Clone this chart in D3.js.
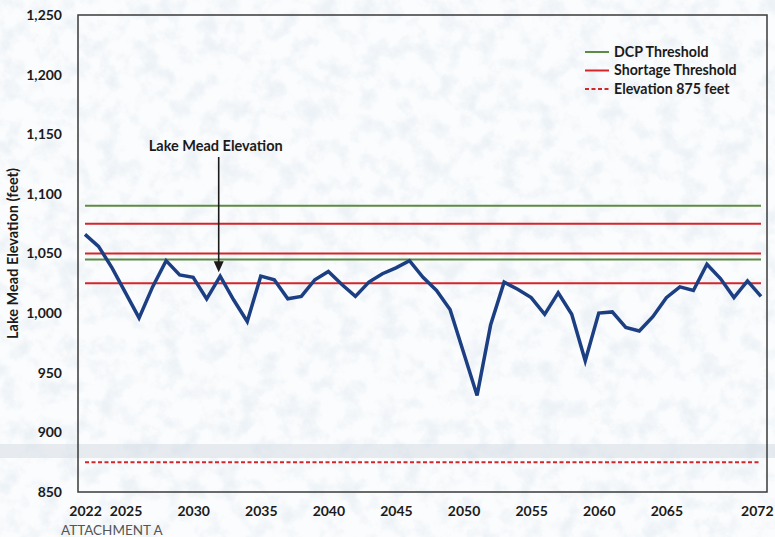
<!DOCTYPE html>
<html>
<head>
<meta charset="utf-8">
<script src="https://cdn.jsdelivr.net/npm/d3@7"></script>
<style>
  html, body { margin: 0; padding: 0; background: #fff; }
  svg { display: block; font-family: Lato, "Open Sans", sans-serif; }
</style>
</head>
<body>
<div id="chart"></div>
<script>
// data
var years = [2022, 2023, 2024, 2025, 2026, 2027, 2028, 2029, 2030, 2031,
             2032, 2033, 2034, 2035, 2036, 2037, 2038, 2039, 2040, 2041,
             2042, 2043, 2044, 2045, 2046, 2047, 2048, 2049, 2050, 2051,
             2052, 2053, 2054, 2055, 2056, 2057, 2058, 2059, 2060, 2061,
             2062, 2063, 2064, 2065, 2066, 2067, 2068, 2069, 2070, 2071, 2072];
var elevation = [1066, 1056, 1038, 1017, 996, 1022, 1044, 1032, 1030, 1012,
                 1031, 1011, 993, 1031, 1028, 1012, 1014, 1028, 1035, 1024,
                 1014, 1026, 1033, 1038, 1044, 1030, 1019, 1003, 967, 931,
                 990, 1026, 1020, 1013, 999, 1017, 999, 960, 1000, 1001,
                 988, 985, 997, 1013, 1022, 1019, 1041, 1029, 1013, 1027, 1014];
var dcpThreshold = [1090, 1045];
var shortageThreshold = [1075, 1050, 1025];
var elevation875 = [875];
var xTickYears = [2022, 2025, 2030, 2035, 2040, 2045, 2050, 2055, 2060, 2065, 2072];
var yTicks = [850, 900, 950, 1000, 1050, 1100, 1150, 1200, 1250];
var legendItems = [
  {label: "DCP Threshold", kind: "dcp"},
  {label: "Shortage Threshold", kind: "shortage"},
  {label: "Elevation 875 feet", kind: "e875"}
];

var W = 775, H = 537;
var margin = {top: 15, right: 8, bottom: 45, left: 78},
    width = W - margin.left - margin.right,
    height = H - margin.top - margin.bottom;

var colors = {dcp: "#5f8a46", shortage: "#d3262b", e875: "#d3262b", line: "#1b3f82"};

var svg_whole = d3.select("#chart").append("svg")
    .attr("width", W)
    .attr("height", H);

// scanned paper look
var defs = svg_whole.append("defs");
var filt = defs.append("filter").attr("id", "paper")
    .attr("x", 0).attr("y", 0).attr("width", "100%").attr("height", "100%");
filt.append("feTurbulence")
    .attr("type", "fractalNoise")
    .attr("baseFrequency", "0.05")
    .attr("numOctaves", 5)
    .attr("seed", 7);
filt.append("feColorMatrix")
    .attr("type", "matrix")
    .attr("values", "0 0 0 0 0.76  0 0 0 0 0.83  0 0 0 0 0.89  3.0 0 0 0 -1.3");

svg_whole.append("rect").attr("width", W).attr("height", H).style("fill", "#fbfcfd");
svg_whole.append("rect").attr("width", W).attr("height", H)
    .attr("filter", "url(#paper)").style("opacity", 0.55);
// scanner streak
svg_whole.append("rect").attr("x", 0).attr("y", 444).attr("width", W).attr("height", 14)
    .style("fill", "#cfd8e0").style("opacity", 0.45);

var svg = svg_whole.append("g")
    .attr("transform", "translate(" + margin.left + "," + margin.top + ")");

var xScale = d3.scaleLinear().domain([2022, 2072]).range([7, width - 6]);
var yScale = d3.scaleLinear().domain([850, 1250]).range([height, 0]);

// Axes (labels only)
var yAxis = d3.axisLeft(yScale).tickValues(yTicks).tickFormat(d3.format(",")).tickSize(0).tickPadding(16);
var xAxis = d3.axisBottom(xScale).tickValues(xTickYears).tickFormat(d3.format("d")).tickSize(0).tickPadding(14);

var yAxisG = svg.append("g").call(yAxis);
var xAxisG = svg.append("g").attr("transform", "translate(0," + height + ")").call(xAxis);
[yAxisG, xAxisG].forEach(function(g) {
    g.select(".domain").remove();
    g.selectAll("text")
        .style("font-family", "Lato, sans-serif")
        .style("font-size", "14px")
        .style("font-weight", "700")
        .style("fill", "#1b1b1b");
});
// last year label sits against the page edge
xAxisG.selectAll(".tick")
    .filter(function(d) { return d === 2072; })
    .select("text")
    .attr("text-anchor", "end")
    .attr("x", W - margin.left - xScale(2072) - 2);

// frame
svg.append("rect")
    .attr("width", width)
    .attr("height", height)
    .style("fill", "none")
    .style("stroke", "#3a3a3a")
    .style("stroke-width", 1.5);

// threshold lines
function hline(values, color, dash) {
    svg.selectAll(null).data(values).enter().append("line")
        .attr("x1", xScale(2022))
        .attr("x2", xScale(2072))
        .attr("y1", function(d) { return yScale(d); })
        .attr("y2", function(d) { return yScale(d); })
        .style("stroke", color)
        .style("stroke-width", 2)
        .style("stroke-dasharray", dash || null);
}
hline(dcpThreshold, colors.dcp);
hline(shortageThreshold, colors.shortage);
hline(elevation875, colors.e875, "4,2.5");

// elevation series
var line = d3.line()
    .x(function(d) { return xScale(d[0]); })
    .y(function(d) { return yScale(d[1]); });
svg.append("path")
    .datum(d3.zip(years, elevation))
    .attr("d", line)
    .style("fill", "none")
    .style("stroke", colors.line)
    .style("stroke-width", 3.5)
    .style("stroke-linejoin", "miter");

// annotation
var annYear = 2032, annIdx = years.indexOf(annYear);
var ax = xScale(annYear) - 1.5;
svg.append("text")
    .attr("x", ax - 3)
    .attr("y", 136)
    .attr("text-anchor", "middle")
    .style("font-size", "14.5px")
    .style("font-weight", "700")
    .style("fill", "#1b1b1b")
    .text("Lake Mead Elevation");
svg.append("line")
    .attr("x1", ax).attr("x2", ax)
    .attr("y1", 142)
    .attr("y2", yScale(elevation[annIdx]) - 14)
    .style("stroke", "#1b1b1b")
    .style("stroke-width", 1.6);
var tipY = yScale(elevation[annIdx]) - 4;
svg.append("path")
    .attr("d", "M" + (ax - 5) + "," + (tipY - 11) + "L" + (ax + 5) + "," + (tipY - 11) + "L" + ax + "," + tipY + "Z")
    .style("fill", "#1b1b1b");

// legend
var legend = svg_whole.append("g").attr("transform", "translate(585,52)");
var rows = legend.selectAll("g").data(legendItems).enter().append("g")
    .attr("transform", function(d, i) { return "translate(0," + (i * 18.5) + ")"; });
rows.append("line")
    .attr("x1", 0).attr("x2", 24)
    .style("stroke", function(d) { return colors[d.kind]; })
    .style("stroke-width", 2)
    .style("stroke-dasharray", function(d) { return d.kind === "e875" ? "4,2.5" : null; });
rows.append("text")
    .attr("x", 29)
    .attr("dy", "0.35em")
    .style("font-size", "14.2px")
    .style("font-weight", "700")
    .style("fill", "#1b1b1b")
    .text(function(d) { return d.label; });

// y title
svg_whole.append("text")
    .attr("transform", "translate(18," + (margin.top + height / 2) + ") rotate(-90)")
    .attr("text-anchor", "middle")
    .style("font-size", "14.5px")
    .style("font-weight", "700")
    .style("fill", "#1b1b1b")
    .text("Lake Mead Elevation (feet)");

// footer
svg_whole.append("text")
    .attr("x", 61)
    .attr("y", 535)
    .style("font-size", "13.5px")
    .style("fill", "#555")
    .text("ATTACHMENT A");
</script>
</body>
</html>
